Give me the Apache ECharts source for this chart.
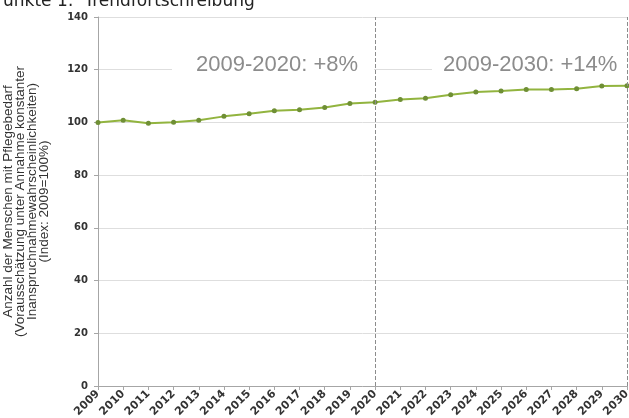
<!DOCTYPE html>
<html>
<head>
<meta charset="utf-8">
<script src="https://cdn.jsdelivr.net/npm/echarts@6/dist/echarts.min.js"></script>
<style>
html, body { margin: 0; padding: 0; background: #fff; }
#main { width: 629px; height: 418px; }
</style>
</head>
<body>
<div id="main"></div>
<script>
var years = ['2009', '2010', '2011', '2012', '2013', '2014', '2015', '2016', '2017', '2018', '2019',
	'2020', '2021', '2022', '2023', '2024', '2025', '2026', '2027', '2028', '2029', '2030'];
var indexValues = [100, 100.8, 99.7, 100.1, 100.8, 102.3, 103.3, 104.4, 104.8, 105.7, 107.2,
	107.7, 108.7, 109.2, 110.5, 111.5, 111.9, 112.5, 112.5, 112.8, 113.8, 113.9];
var markYears = ['2020', '2030'];
var growthLabels = ['2009-2020: +8%', '2009-2030: +14%'];
var yTitle = 'Anzahl der Menschen mit Pflegebedarf\n(Vorausschätzung unter Annahme konstanter\nInanspruchnahmewahrscheinlichkeiten)\n(Index: 2009=100%)';

var chart = echarts.init(document.getElementById('main'));
chart.setOption({
	animation: false,
	title: {
		text: 'unkte 1:  Trendfortschreibung',
		left: -2,
		top: -12,
		textStyle: { fontFamily: 'DejaVu Sans', fontSize: 17, fontWeight: 'normal', color: '#222' }
	},
	grid: { left: 98, right: 2, top: 17, bottom: 32, outerBoundsMode: 'none' },
	xAxis: {
		type: 'category',
		data: years,
		boundaryGap: false,
		axisLine: { lineStyle: { color: '#a6a6a6' } },
		axisTick: { show: true, length: 4, lineStyle: { color: '#a6a6a6' } },
		axisLabel: {
			rotate: 45, interval: 0, margin: 6,
			fontFamily: 'DejaVu Sans', fontSize: 11, fontWeight: 'bold', color: '#333'
		},
		splitLine: { show: false }
	},
	yAxis: {
		type: 'value',
		min: 0, max: 140, interval: 20,
		name: yTitle,
		nameLocation: 'middle',
		nameGap: 48,
		nameRotate: 90,
		nameTextStyle: { fontFamily: 'Liberation Sans', fontSize: 13.5, color: '#333', lineHeight: 12 },
		axisLine: { show: true, lineStyle: { color: '#a6a6a6' } },
		axisTick: { show: true, length: 4, lineStyle: { color: '#a6a6a6' } },
		axisLabel: { fontFamily: 'DejaVu Sans', fontSize: 10, fontWeight: 'bold', color: '#333', margin: 10 },
		splitLine: { lineStyle: { color: '#dedede' } }
	},
	graphic: [
		{
			type: 'text', left: 172, top: 52, z: 1,
			style: {
				text: growthLabels[0], fontFamily: 'Liberation Sans', fontSize: 22, fill: '#8c8c8c',
				backgroundColor: '#fff', padding: [2, 16, 2, 24]
			}
		},
		{
			type: 'text', left: 432, top: 52, z: 1,
			style: {
				text: growthLabels[1], fontFamily: 'Liberation Sans', fontSize: 22, fill: '#8c8c8c',
				backgroundColor: '#fff', padding: [2, 10, 2, 11]
			}
		}
	],
	series: [{
		type: 'line',
		data: indexValues,
		symbol: 'circle',
		symbolSize: 5,
		lineStyle: { color: '#92b43f', width: 2 },
		itemStyle: { color: '#6f8f35' },
		markLine: {
			silent: true,
			symbol: 'none',
			label: { show: false },
			lineStyle: { color: '#8c8c8c', type: 'dashed', width: 1 },
			data: markYears.map(function (y) { return { xAxis: y }; })
		}
	}]
});
</script>
</body>
</html>
